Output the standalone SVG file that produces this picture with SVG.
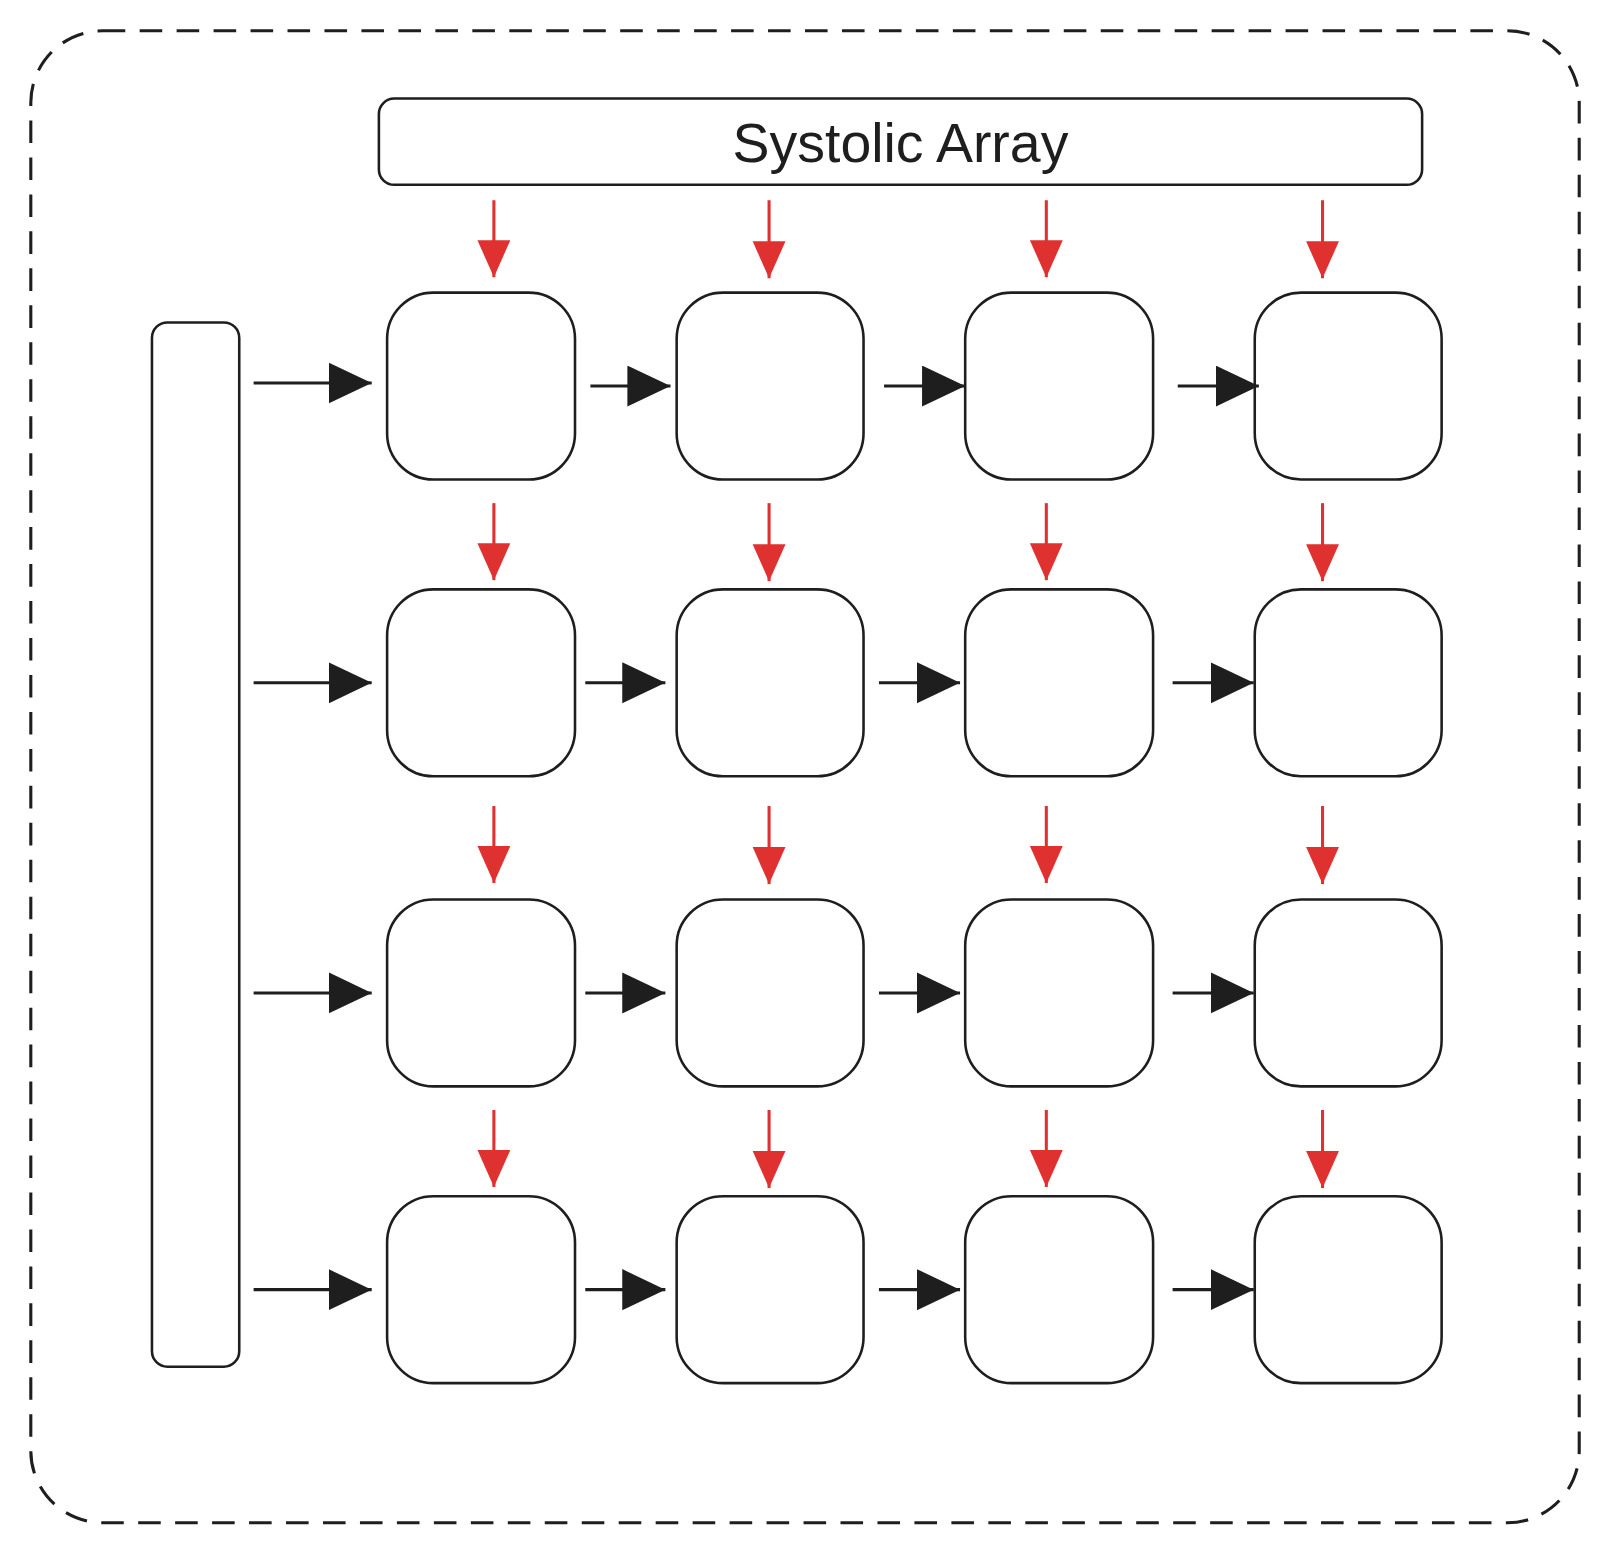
<svg xmlns="http://www.w3.org/2000/svg" width="1609" height="1553" viewBox="0 0 1609 1553">
<style>
.box{fill:#fff;stroke:#1e1e1e;stroke-width:2.5}
.blk{stroke:#1e1e1e;stroke-width:3;fill:none}
.red{stroke:#e03131;stroke-width:3;fill:none}
</style>
<defs>
<marker id="bh" markerUnits="userSpaceOnUse" markerWidth="44" markerHeight="42" refX="42" refY="20" orient="auto"><path d="M0,0 L42,20 L0,40 Z" fill="#1e1e1e"/></marker>
<marker id="rh" markerUnits="userSpaceOnUse" markerWidth="38" markerHeight="34" refX="36" refY="16" orient="auto"><path d="M0,0 L36,16 L0,32 Z" fill="#e03131"/></marker>
</defs>
<rect width="1609" height="1553" fill="#fff"/>
<g transform="scale(1.0268)">
<g id="frame"><rect x="30" y="30" width="1508" height="1453" rx="70" fill="none" stroke="#1e1e1e" stroke-width="3" stroke-dasharray="22 14"/></g>
<g id="title"><rect class="box" x="369" y="96" width="1016" height="84" rx="15"/>
<text x="877" y="158" text-anchor="middle" font-family="Liberation Sans, sans-serif" font-size="54" fill="#1e1e1e">Systolic Array</text></g>
<g id="leftbar"><rect class="box" x="148" y="314" width="85" height="1017" rx="15"/></g>
<g id="cells">
<g id="c11"><rect class="box" x="377" y="285" width="183" height="182" rx="45"/></g>
<g id="c12"><rect class="box" x="659" y="285" width="182" height="182" rx="45"/></g>
<g id="c13"><rect class="box" x="940" y="285" width="183" height="182" rx="45"/></g>
<g id="c14"><rect class="box" x="1222" y="285" width="182" height="182" rx="45"/></g>
<g id="c21"><rect class="box" x="377" y="574" width="183" height="182" rx="45"/></g>
<g id="c22"><rect class="box" x="659" y="574" width="182" height="182" rx="45"/></g>
<g id="c23"><rect class="box" x="940" y="574" width="183" height="182" rx="45"/></g>
<g id="c24"><rect class="box" x="1222" y="574" width="182" height="182" rx="45"/></g>
<g id="c31"><rect class="box" x="377" y="876" width="183" height="182" rx="45"/></g>
<g id="c32"><rect class="box" x="659" y="876" width="182" height="182" rx="45"/></g>
<g id="c33"><rect class="box" x="940" y="876" width="183" height="182" rx="45"/></g>
<g id="c34"><rect class="box" x="1222" y="876" width="182" height="182" rx="45"/></g>
<g id="c41"><rect class="box" x="377" y="1165" width="183" height="182" rx="45"/></g>
<g id="c42"><rect class="box" x="659" y="1165" width="182" height="182" rx="45"/></g>
<g id="c43"><rect class="box" x="940" y="1165" width="183" height="182" rx="45"/></g>
<g id="c44"><rect class="box" x="1222" y="1165" width="182" height="182" rx="45"/></g>
</g>
<g id="connectors">
<g marker-end="url(#bh)" class="blk">
<path d="M247,373H362"/><path d="M575,376H653"/><path d="M861,376H940"/><path d="M1147,376H1226"/>
<path d="M247,665H362"/><path d="M570,665H648"/><path d="M856,665H935"/><path d="M1142,665H1221"/>
<path d="M247,967H362"/><path d="M570,967H648"/><path d="M856,967H935"/><path d="M1142,967H1221"/>
<path d="M247,1256H362"/><path d="M570,1256H648"/><path d="M856,1256H935"/><path d="M1142,1256H1221"/>
</g>
<g class="red" marker-end="url(#rh)">
<path d="M481,195V270"/><path d="M749,195V271"/><path d="M1019,195V270"/><path d="M1288,195V271"/>
<path d="M481,490V565"/><path d="M749,490V566"/><path d="M1019,490V565"/><path d="M1288,490V566"/>
<path d="M481,785V860"/><path d="M749,785V861"/><path d="M1019,785V860"/><path d="M1288,785V861"/>
<path d="M481,1081V1156"/><path d="M749,1081V1157"/><path d="M1019,1081V1156"/><path d="M1288,1081V1157"/>
</g>
</g>
</g>
</svg>
